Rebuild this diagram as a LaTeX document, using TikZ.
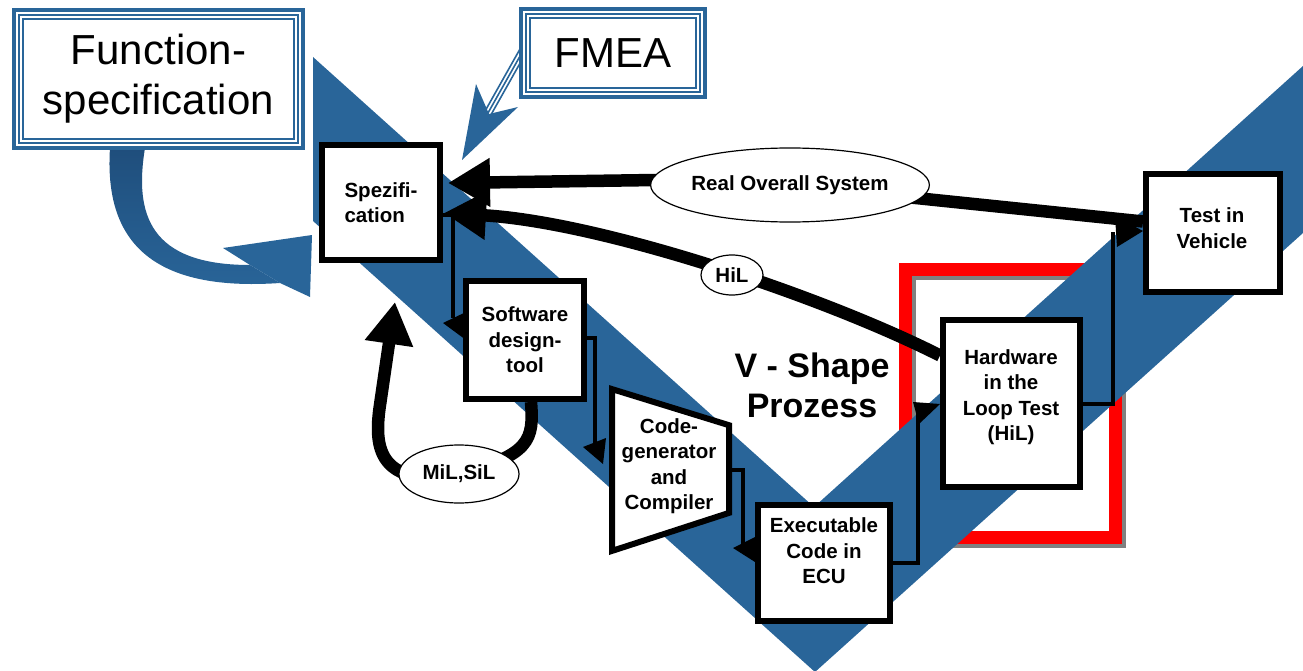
\documentclass[tikz,border=0pt]{standalone}
\usepackage{fontspec}
\setmainfont{Liberation Sans}
\usetikzlibrary{shapes.geometric,arrows.meta,calc}
\definecolor{vblue}{RGB}{41,101,153}
\definecolor{dblue}{RGB}{31,78,124}
\definecolor{vred}{RGB}{255,0,0}
\definecolor{vgrey}{RGB}{128,128,128}
\pgfdeclarelayer{bg}
\pgfdeclarelayer{mid}
\pgfsetlayers{bg,mid,main}
\begin{document}
\begin{tikzpicture}[x=1pt,y=-1pt,
  boxfont/.style={font=\fontsize{20.5}{25.5}\selectfont\bfseries},
  wbox/.style={draw=black, line width=6pt, fill=white, inner sep=0pt, rectangle},
  lbl/.style={boxfont, align=center, inner sep=0pt},
  oval/.style={ellipse, draw=black, line width=1.2pt, fill=white, inner sep=0pt, boxfont},
  heavy/.style={line width=12.5pt, black},
  heavytip/.style={-{Triangle[length=42pt,width=46pt]}},
  thinline/.style={line width=4pt, black},
  tribox/.style={fill=white, draw=vblue, line width=4pt, inner sep=0pt,
     font=\fontsize{42}{50}\selectfont, align=center,
     path picture={
       \draw[vblue, line width=1.8pt] ([shift={(5.2pt,-5.2pt)}]path picture bounding box.north west) rectangle ([shift={(-5.2pt,5.2pt)}]path picture bounding box.south east);
       \draw[vblue, line width=2.2pt] ([shift={(8.8pt,-8.8pt)}]path picture bounding box.north west) rectangle ([shift={(-8.8pt,8.8pt)}]path picture bounding box.south east);
     }},
]
\useasboundingbox (0,0) rectangle (1303,671);

% ---------- nodes ----------
\node[tribox, minimum width=289pt, minimum height=138pt] (fs) at (158.5,79) {Function-\\specification};
\node[tribox, minimum width=184pt, minimum height=88pt] (fmea) at (613,53) {FMEA};

\node[wbox, minimum width=118pt, minimum height=115pt, boxfont, align=left] (spez) at (381,202.5) {Spezifi-\\cation};
\node[wbox, minimum width=118pt, minimum height=118pt, boxfont, align=center] (sw) at (525,340) {Software\\design-\\tool};

\coordinate (c1) at (612,389.1);
\coordinate (c2) at (729,425.2);
\coordinate (c3) at (729,512.9);
\coordinate (c4) at (612,550.9);
\draw[line width=6pt, fill=white] (c1) -- (c2) -- (c3) -- (c4) -- cycle;
\node[lbl] (cg) at (669,466) {Code-\\generator\\and\\Compiler};
\coordinate (cgout) at (732,470);
\coordinate (cgin) at (595,449);

\node[wbox, minimum width=132pt, minimum height=116pt] (exec) at (824,563) {};
\node[lbl] (exectxt) at (824,551) {Executable\\Code in\\ECU};
\node[wbox, minimum width=137pt, minimum height=167pt] (hil) at (1011.5,403.5) {};
\node[lbl] (hiltxt) at (1011,397) {Hardware\\in the\\Loop Test\\(HiL)};
\node[wbox, minimum width=134pt, minimum height=118pt] (tv) at (1213,233) {};
\node[lbl] (tvtxt) at (1212,228) {Test in\\Vehicle};

\node[oval, minimum width=258pt, minimum height=74pt] (ro) at (790,185) {Real Overall System};
\node[oval, minimum width=62pt, minimum height=40pt] (hl) at (732,275) {HiL};
\node[oval, minimum width=120pt, minimum height=58pt] (mil) at (459,474) {MiL,SiL};

\node[font=\fontsize{34}{40}\selectfont\bfseries, align=center, inner sep=0pt] (vs) at (812,385) {V - Shape\\Prozess};

% ---------- connectors ----------
\begin{pgfonlayer}{mid}
  % thin elbow connectors
  \draw[thinline] ([yshift=-12pt]spez.east) -| ([shift={(-10pt,22pt)}]sw.west);
  \fill (443,323) -- (466,312) -- (466,340) -- cycle;
  \draw[thinline] ([yshift=2pt]sw.east) -| (cgin);
  \fill (583,447) -- (606,438) -- (603,464) -- cycle;
  \draw[thinline] (cgout) -| ([shift={(-12pt,18pt)}]exec.west);
  \fill (733,548) -- (755,537) -- (755,562) -- cycle;
  \draw[thinline] (exec.east) -| ([shift={(-22pt,-2pt)}]hil.west);
  \fill (913,402) -- (940,404) -- (919,424) -- cycle;
  \draw[thinline] (hil.east) -| ([shift={(-30pt,1pt)}]tv.west);
  \fill (1115,216) -- (1143,231) -- (1117,247) -- cycle;
  % heavy connectors
  \draw[heavy] ([yshift=11.5pt]tv.west) -- (ro.center);
  \draw[heavy, heavytip] ([shift={(6pt,5pt)}]ro.west) -- ([shift={(5pt,19.5pt)}]spez.east);
  \draw[heavy, heavytip] ([yshift=48pt]hil.west) .. controls (820,295) and (600,222) .. ([shift={(1pt,-10.5pt)}]spez.east);
  \draw[heavy] ([xshift=6pt]sw.south) .. controls (534,440) and (530,455) .. (mil.center);
  \draw[heavy, heavytip] ([shift={(-19pt,-4pt)}]mil.center) .. controls (378,480) and (374,445) .. (380,405) -- ([shift={(14pt,-39pt)}]spez.south);
\end{pgfonlayer}

% ---------- background ----------
\begin{pgfonlayer}{bg}
  \draw[vgrey, line width=13pt] (909.5,273.5) rectangle (1119.5,541.5);
  \draw[vred, line width=13pt] (905.5,269.5) rectangle (1115.5,537.5);
  \fill[vblue] (313,57) -- (814,507) -- (1303,66) -- (1303,233) -- (815,672) -- (313,221) -- cycle;
  % curved arrow from Function-specification
  \shade[top color=dblue, bottom color=vblue] (110,148) .. controls (104,240) and (150,292) .. (280,283) -- (250,265) .. controls (150,265) and (134,215) .. (145,148) -- cycle;
  \fill[vblue] (223,248) -- (312,235) -- (310,297) -- (280,283) -- (250,265) -- cycle;
  % FMEA arrow
  \draw[vblue, line width=1.6pt] (529.05,47.22) -- (489.05,118.22);
  \draw[vblue, line width=1.6pt] (526,45.5) -- (486,116.5);
  \draw[vblue, line width=1.6pt] (522.95,43.78) -- (482.95,114.78);
  \fill[vblue] (462,160) -- (476,84) -- (489,114) -- (518,107) -- cycle;
\end{pgfonlayer}
\end{tikzpicture}
\end{document}
